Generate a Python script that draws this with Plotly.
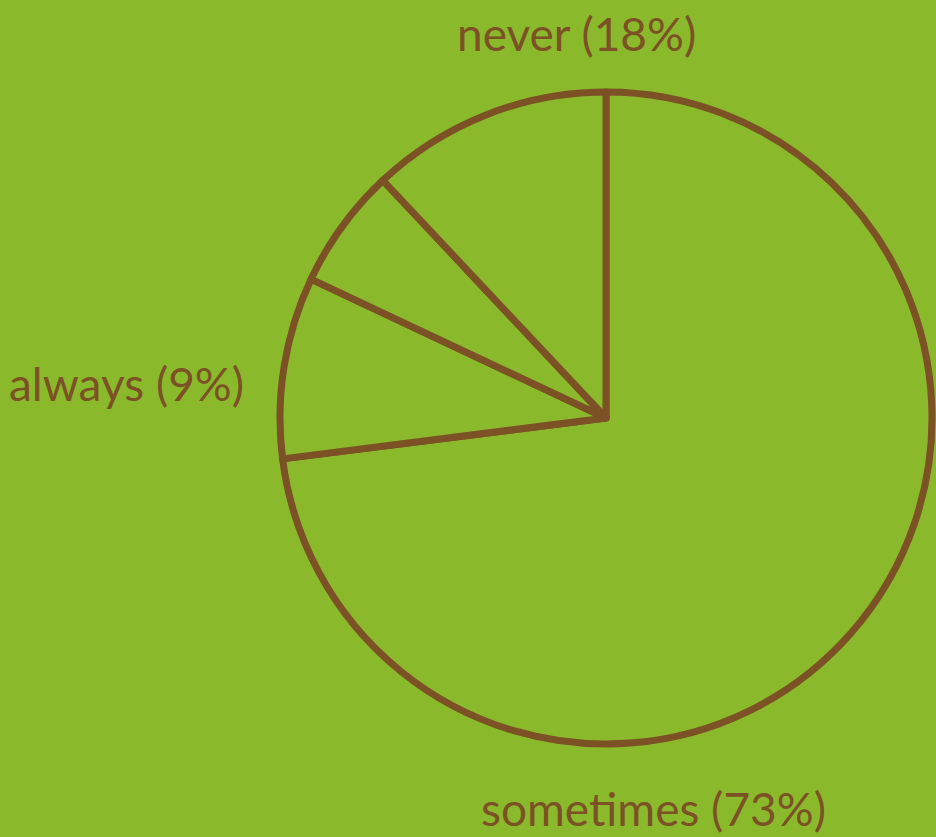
import plotly.graph_objects as go

categories = ["sometimes", "always", "other", "never"]
values = [73, 9, 6, 12]
label_texts = ["sometimes (73%)", "always (9%)", "never (18%)"]
label_pos = [(653, 808), (126, 383), (576, 33)]

W, H = 936, 837
BG = "#8aba2c"
BROWN = "#7b5125"

fig = go.Figure(go.Pie(
    labels=categories,
    values=values,
    sort=False,
    direction="clockwise",
    rotation=0,
    textinfo="none",
    hoverinfo="label+percent",
    marker=dict(colors=[BG] * len(values), line=dict(color=BROWN, width=7)),
    domain=dict(x=[(606 - 326) / W, (606 + 326) / W],
                y=[(419 - 326) / H, (419 + 326) / H]),
    showlegend=False,
))

for t, (px, py) in zip(label_texts, label_pos):
    fig.add_annotation(text=t, x=px / W, y=1 - py / H, xref="paper", yref="paper",
                       showarrow=False, xanchor="center", yanchor="middle",
                       font=dict(family="Lato", size=46, color=BROWN))

fig.update_layout(width=W, height=H, margin=dict(l=0, r=0, t=0, b=0),
                  paper_bgcolor=BG, plot_bgcolor=BG)
fig.write_html("out.html", config={"displayModeBar": False},
               post_script="document.body.style.margin='0';document.body.style.padding='0';document.body.style.background='%s';" % BG)
